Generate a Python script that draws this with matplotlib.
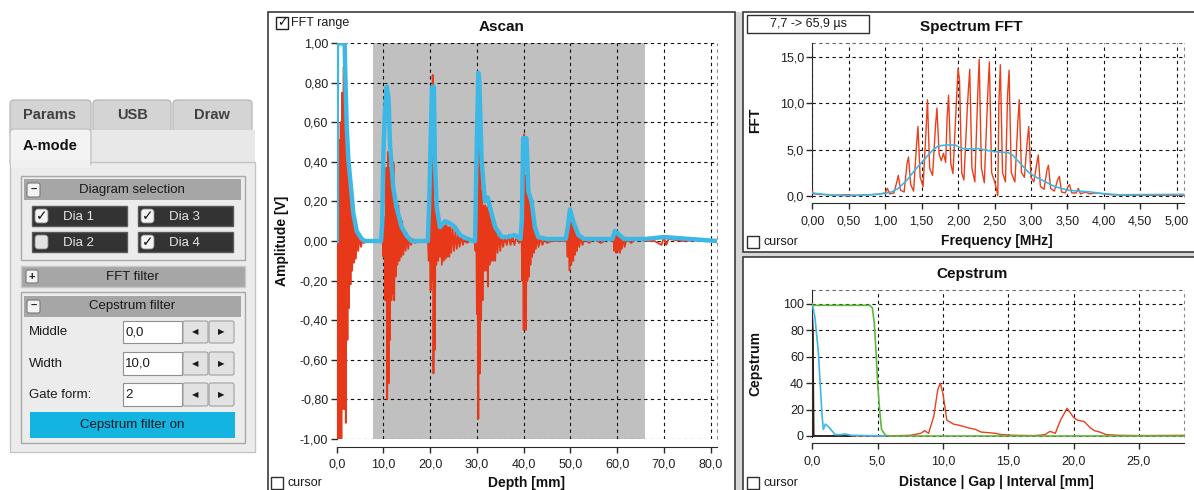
import matplotlib
matplotlib.use('Agg')
import matplotlib.pyplot as plt
from matplotlib.patches import Rectangle, FancyBboxPatch
from matplotlib.ticker import FuncFormatter

plt.rcParams['font.family'] = ['Liberation Sans', 'DejaVu Sans']

# ---------------- data ----------------
fft_range = [7.7, 65.9]

# Ascan raw RF signal (depth in mm, amplitude in V)
ascan_red_depth = [
    0.0, 0.1, 0.2, 0.35, 0.45, 0.55, 0.7, 0.85, 1.0, 1.15, 1.3, 1.5, 1.65, 1.8, 1.95, 2.1,
    2.3, 2.45, 2.6, 2.8, 2.95, 3.1, 3.3, 3.5, 3.7, 3.9, 4.1, 4.35, 4.6, 4.9, 5.2, 5.5, 5.8, 6.5,
    7.5, 9.0, 9.6,
    9.8, 10.0, 10.2, 10.4, 10.6, 10.8, 10.95, 11.1, 11.25, 11.4, 11.55, 11.7, 11.85, 12.0, 12.15,
    12.3, 12.45, 12.6, 12.8, 13.0, 13.2, 13.4, 13.6, 13.8, 14.0, 14.25, 14.5, 14.75, 15.0, 15.3,
    15.6, 15.9, 16.3, 16.8, 17.5, 19.3,
    19.5, 19.7, 19.9, 20.1, 20.25, 20.4, 20.55, 20.7, 20.85, 21.0, 21.15, 21.3, 21.5, 21.7, 21.9,
    22.1, 22.3, 22.5, 22.7, 22.9, 23.1, 23.3, 23.5, 23.7, 23.9, 24.1, 24.3, 24.5, 24.8, 25.1,
    25.4, 25.7, 26.0, 26.3, 26.6, 27.0, 27.4, 27.8, 28.5, 29.5,
    29.7, 29.85, 30.0, 30.15, 30.3, 30.45, 30.6, 30.75, 30.9, 31.05, 31.2, 31.4, 31.6, 31.8, 32.0,
    32.2, 32.35, 32.5, 32.7, 32.9, 33.1, 33.3, 33.5, 33.7, 33.9, 34.1, 34.4, 34.7, 35.0, 35.3,
    35.6, 36.0, 36.4, 36.8, 37.2, 37.6, 38.0, 38.5, 39.0, 39.4,
    39.55, 39.7, 39.85, 40.0, 40.1, 40.25, 40.4, 40.5, 40.65, 40.8, 40.95, 41.1, 41.3, 41.45,
    41.6, 41.8, 42.0, 42.2, 42.4, 42.6, 42.9, 43.2, 43.6, 44.0, 44.5, 45.0, 46.0, 49.0,
    49.2, 49.4, 49.6, 49.8, 50.0, 50.2, 50.4, 50.6, 50.8, 51.0, 51.2, 51.4, 51.6, 51.9, 52.2,
    52.6, 53.0, 54.0, 55.0, 56.5, 58.0, 59.0,
    59.2, 59.4, 59.6, 59.8, 60.0, 60.2, 60.4, 60.6, 60.8, 61.0, 61.3, 61.6, 62.0, 63.0, 64.0, 66.0,
    68.0, 69.5, 70.0, 70.5, 71.0, 74.0, 78.0, 81.3]
ascan_red_amp = [
    0.0, 1.0, -1.0, 0.32, -1.0, 0.51, -1.0, 0.6, -1.0, 0.75, -0.85, 0.88, -0.85, 0.6, -0.92, 0.45,
    -0.5, 0.4, -0.34, 0.28, -0.22, 0.22, -0.15, 0.14, -0.11, 0.1, -0.09, 0.06, -0.05, 0.03, -0.03, 0.01, -0.01, 0.0,
    0.0, 0.0, 0.0,
    0.02, -0.08, 0.12, -0.3, 0.37, -0.8, 0.45, -0.72, 0.37, -0.5, 0.37, -0.3, 0.36, -0.27, 0.39,
    -0.3, 0.25, -0.18, 0.2, -0.12, 0.18, -0.1, 0.12, -0.08, 0.1, -0.07, 0.05, -0.05, 0.04, -0.04,
    0.02, -0.02, 0.01, -0.01, 0.0, 0.0,
    0.01, -0.1, 0.15, -0.25, 0.6, -0.2, 0.84, -0.67, 0.2, -0.55, 0.2, -0.12, 0.13, -0.1, 0.08,
    -0.08, 0.07, -0.12, 0.08, -0.1, 0.08, -0.09, 0.08, -0.08, 0.07, -0.08, 0.07, -0.06, 0.06, -0.05,
    0.05, -0.04, 0.04, -0.03, 0.03, -0.02, 0.02, -0.01, 0.0, 0.0,
    -0.05, 0.15, -0.37, 0.4, -0.9, 0.68, -0.67, 0.5, -0.4, 0.25, -0.3, 0.18, -0.15, 0.18, -0.15,
    0.17, -0.23, 0.15, -0.12, 0.12, -0.1, 0.12, -0.1, 0.08, -0.1, 0.06, -0.06, 0.05, -0.05, 0.03,
    -0.03, 0.02, -0.02, 0.03, -0.02, 0.03, -0.02, 0.02, -0.01, 0.0,
    0.05, -0.2, 0.33, -0.45, 0.54, -0.35, 0.33, -0.45, 0.28, -0.2, 0.25, -0.18, 0.2, -0.12,
    0.15, -0.08, 0.1, -0.06, 0.06, -0.04, 0.03, -0.03, 0.02, -0.02, 0.01, -0.01, 0.0, 0.0,
    0.03, -0.08, 0.09, -0.15, 0.1, -0.12, 0.1, -0.1, 0.08, -0.07, 0.06, -0.05, 0.04, -0.03, 0.02,
    -0.02, 0.01, -0.01, 0.01, -0.01, 0.01, 0.0,
    0.03, -0.05, 0.05, -0.06, 0.04, -0.05, 0.04, -0.06, 0.03, -0.04, 0.02, -0.03, 0.01, -0.01, 0.01, 0.0,
    0.0, -0.02, 0.02, -0.02, 0.01, 0.0, 0.005, 0.0]

# Ascan envelope
ascan_env_depth = [
    0.0, 0.05, 1.7, 1.8, 2.14, 2.5, 3.06, 3.56, 4.28, 5.35, 6.06, 9.5, 9.75, 10.0, 10.3, 10.7,
    11.1, 11.4, 12.1, 12.8, 13.9, 15.0, 16.0, 19.5, 19.8, 20.1, 20.4, 20.8, 21.0, 21.4, 22.1,
    23.2, 24.2, 25.3, 26.4, 27.4, 29.2, 29.6, 29.9, 30.3, 30.5, 31.0, 31.7, 32.3, 32.8, 33.9,
    35.3, 36.5, 38.1, 39.3, 39.6, 39.9, 40.6, 41.0, 41.7, 42.4, 43.1, 45.0, 49.0, 49.5, 49.9,
    50.6, 51.7, 53.0, 59.0, 59.5, 60.5, 61.5, 66.0, 70.0, 81.3]
ascan_env_amp = [
    0.0, 1.0, 1.0, 0.88, 0.58, 0.41, 0.27, 0.14, 0.05, 0.01, 0.0, 0.0, 0.1, 0.45, 0.65, 0.78,
    0.72, 0.49, 0.27, 0.17, 0.07, 0.025, 0.0, 0.0, 0.2, 0.5, 0.78, 0.78, 0.41, 0.17, 0.07,
    0.1, 0.09, 0.07, 0.03, 0.017, 0.0, 0.0, 0.4, 0.85, 0.82, 0.41, 0.2, 0.22, 0.17, 0.07,
    0.02, 0.02, 0.03, 0.01, 0.1, 0.52, 0.52, 0.25, 0.2, 0.07, 0.02, 0.01, 0.01, 0.08, 0.16,
    0.1, 0.03, 0.01, 0.01, 0.05, 0.03, 0.01, 0.01, 0.02, 0.0]

# Spectrum FFT (MHz)
fft_freq = [
    0.00, 0.02, 0.10, 0.20, 0.30, 0.45, 0.60, 0.75, 0.90, 1.00, 1.03, 1.06, 1.12, 1.16, 1.18,
    1.21, 1.26, 1.30, 1.32, 1.35, 1.39, 1.43, 1.45, 1.48, 1.52, 1.56, 1.58, 1.61, 1.65, 1.69,
    1.71, 1.74, 1.77, 1.80, 1.83, 1.85, 1.87, 1.90, 1.93, 1.97, 2.00, 2.02, 2.05, 2.08, 2.13,
    2.16, 2.19, 2.23, 2.27, 2.29, 2.32, 2.36, 2.41, 2.43, 2.46, 2.51, 2.545, 2.56, 2.58, 2.61,
    2.65, 2.68, 2.70, 2.73, 2.78, 2.82, 2.84, 2.87, 2.91, 2.95, 2.97, 3.00, 3.04, 3.08, 3.10,
    3.13, 3.18, 3.22, 3.24, 3.27, 3.32, 3.37, 3.39, 3.42, 3.47, 3.51, 3.53, 3.56, 3.62, 3.65,
    3.68, 3.75, 3.80, 3.90, 4.00, 4.10, 4.30, 4.60, 5.10]
fft_red = [
    0.5, 0.2, 0.15, 0.1, 0.05, 0.1, 0.05, 0.1, 0.15, 0.3, 0.8, 0.2, 0.3, 1.5, 2.2,
    0.6, 0.4, 3.5, 4.2, 1.2, 0.5, 5.5, 7.5, 2.0, 1.0, 7.0, 10.4, 3.0, 2.2, 7.5,
    9.5, 4.5, 3.8, 4.6, 3.6, 8.5, 10.9, 3.5, 2.4, 9.0, 13.8, 12.5, 2.5, 1.7, 10.0,
    13.7, 3.0, 1.5, 11.0, 14.8, 3.0, 1.4, 11.5, 14.5, 2.5, 1.3, 0.0, 10.0, 14.2, 2.5,
    1.5, 11.0, 13.6, 2.5, 1.5, 8.0, 10.4, 2.5, 2.0, 6.0, 7.5, 2.0, 1.5, 3.5, 4.4,
    1.0, 0.7, 2.8, 3.3, 0.8, 0.5, 1.8, 2.1, 0.4, 0.3, 1.0, 1.2, 0.3, 0.3, 0.8,
    0.2, 0.4, 0.2, 0.3, 0.2, 0.1, 0.05, 0.05, 0.05]
fft_smooth_freq = [0.0, 0.1, 0.3, 0.5, 0.8, 1.0, 1.1, 1.18, 1.3, 1.41, 1.5, 1.59, 1.66, 1.73,
                   1.85, 1.96, 2.03, 2.1, 2.28, 2.5, 2.69, 2.75, 2.83, 2.96, 3.05, 3.15, 3.33,
                   3.51, 3.65, 3.79, 3.97, 4.2, 5.1]
fft_smooth = [0.3, 0.2, 0.05, 0.0, 0.1, 0.25, 0.45, 0.8, 1.7, 2.8, 3.6, 4.4, 5.0, 5.4,
              5.5, 5.5, 5.2, 5.06, 5.1, 4.77, 4.66, 4.4, 3.7, 2.6, 2.1, 1.7, 0.98,
              0.6, 0.5, 0.43, 0.25, 0.1, 0.15]

# Cepstrum (mm)
cep_gate_x = [0.0, 4.4, 4.6, 4.75, 4.9, 5.0, 5.15, 5.3, 5.6, 5.9, 28.45]
cep_gate_y = [99, 99, 97, 85, 60, 40, 20, 5, 0.5, 0, 0]
cep_filt_x = [0.0, 0.2, 0.45, 0.6, 0.75, 0.85, 1.0, 1.25, 1.5, 1.75, 2.2, 2.5, 3.0, 5.5]
cep_filt_y = [100, 90, 65, 40, 15, 5, 9, 7, 4, 1, 1, 1.5, 0.5, 0]
cep_raw_x = [0.0, 0.05, 0.1, 3.0, 5.5, 7.5, 8.3, 8.6, 8.9, 9.3, 9.6, 9.8, 10.0, 10.3, 10.8,
             11.3, 12.0, 12.5, 12.9, 13.5, 14.0, 14.5, 15.5, 17.0, 17.8, 18.2, 18.6, 19.0,
             19.5, 20.0, 20.3, 20.8, 21.3, 21.6, 22.0, 22.5, 23.5, 25.0, 28.45]
cep_raw_y = [90, 75, 0, 0, 0, 0.5, 2, 4, 2, 15, 35, 40, 32, 12, 9,
             8, 6, 5, 3, 2.5, 2, 1, 0.5, 0.3, 1, 3.5, 2, 12,
             21, 14, 12, 11, 6, 4, 3, 1, 0.5, 0.3, 0.5]

ascan_xticks = [0, 10, 20, 30, 40, 50, 60, 70, 80]
ascan_yticks = [-1.0, -0.8, -0.6, -0.4, -0.2, 0.0, 0.2, 0.4, 0.6, 0.8, 1.0]
fft_xticks = [0.0, 0.5, 1.0, 1.5, 2.0, 2.5, 3.0, 3.5, 4.0, 4.5, 5.0]
fft_yticks = [0.0, 5.0, 10.0, 15.0]
cep_xticks = [0.0, 5.0, 10.0, 15.0, 20.0, 25.0]
cep_yticks = [0, 20, 40, 60, 80, 100]

# ---------------- figure ----------------
W, H = 1194, 490
fig = plt.figure(figsize=(W / 100, H / 100), dpi=100)
bg = fig.add_axes([0, 0, 1, 1], zorder=0)
bg.set_xlim(0, W)
bg.set_ylim(H, 0)
bg.axis('off')

def rect(x0, y0, x1, y1, fc='none', ec='none', lw=1.0, z=1, rounded=0):
    if rounded:
        p = FancyBboxPatch((x0, y0), x1 - x0, y1 - y0,
                           boxstyle='round,pad=0,rounding_size=%g' % rounded,
                           facecolor=fc, edgecolor=ec, linewidth=lw, zorder=z)
    else:
        p = Rectangle((x0, y0), x1 - x0, y1 - y0, facecolor=fc, edgecolor=ec,
                      linewidth=lw, zorder=z)
    bg.add_patch(p)

def txt(x, y, s, size=9, ha='left', color='#1a1a1a', weight='normal', z=5, **kw):
    bg.text(x, y, s, fontsize=size, ha=ha, va='center', color=color,
            fontweight=weight, zorder=z, **kw)

# ----- left control panel -----
rect(10, 100, 91, 136, fc='#d4d4d4', ec='#bcbcbc', rounded=4)
rect(93, 100, 171, 136, fc='#d4d4d4', ec='#bcbcbc', rounded=4)
rect(173, 100, 252, 136, fc='#d4d4d4', ec='#bcbcbc', rounded=4)
txt(50, 115, 'Params', size=10.5, weight='bold', ha='center', color='#404040')
txt(132, 115, 'USB', size=10.5, weight='bold', ha='center', color='#404040')
txt(212, 115, 'Draw', size=10.5, weight='bold', ha='center', color='#404040')
rect(10, 130, 255, 163, fc='#e8e8e8', ec='none', z=1.5)
rect(10, 162, 255, 452, fc='#ececec', ec='#c4c4c4', z=1.6)
rect(10, 129, 91, 166, fc='#f3f3f3', ec='#c4c4c4', rounded=4, z=1.7)
rect(11, 160, 90, 168, fc='#f0f0f0', ec='none', z=1.8)
txt(50, 146, 'A-mode', size=10.5, weight='bold', ha='center', color='#101010')

# Diagram selection group
rect(21, 176, 245, 260, fc='#ececec', ec='#a8a8a8', z=2)
rect(24, 179, 241, 200, fc='#a6a6a6', ec='none', z=2.1)
rect(27, 183, 40, 197, fc='#f2f2f2', ec='#7a7a7a', lw=0.8, z=2.2, rounded=2)
txt(33.5, 189.5, '–', size=8, ha='center', weight='bold')
txt(132, 190, 'Diagram selection', size=9.5, ha='center')
dia = [('Dia 1', 32, 206, True), ('Dia 3', 138, 206, True),
       ('Dia 2', 32, 232, False), ('Dia 4', 138, 232, True)]
for name, x0, y0, chk in dia:
    rect(x0, y0, x0 + 95, y0 + 20, fc='#333333', ec='#5a5a5a', z=2.2)
    rect(x0 + 3, y0 + 3, x0 + 16, y0 + 17, fc='#f4f4f4' if chk else '#e2e2e2',
         ec='#888888', lw=0.6, z=2.3, rounded=3)
    if chk:
        txt(x0 + 9.5, y0 + 10.5, '✓', size=10, ha='center', color='#111111',
            family=['DejaVu Sans'], weight='bold')
    txt(x0 + 31, y0 + 10.5, name, size=9.5, color='#e6e6e6')

# FFT filter bar
rect(21, 266, 245, 287, fc='#a6a6a6', ec='#c8c8c8', z=2)
rect(26, 270, 38, 283, fc='#f2f2f2', ec='#7a7a7a', lw=0.8, z=2.2, rounded=2)
txt(32, 276.5, '+', size=8, ha='center', weight='bold')
txt(132, 277, 'FFT filter', size=9.5, ha='center')

# Cepstrum filter group
rect(21, 292, 245, 443, fc='#ececec', ec='#a8a8a8', z=2)
rect(24, 296, 241, 317, fc='#a6a6a6', ec='none', z=2.1)
rect(27, 300, 40, 313, fc='#f2f2f2', ec='#7a7a7a', lw=0.8, z=2.2, rounded=2)
txt(33.5, 306, '–', size=8, ha='center', weight='bold')
txt(132, 306, 'Cepstrum filter', size=9.5, ha='center')
rows = [('Middle', '0,0', 321, 343), ('Width', '10,0', 352, 375), ('Gate form:', '2', 383, 406)]
for lab, val, y0, y1 in rows:
    ym = (y0 + y1) / 2
    txt(29, ym, lab, size=9.5)
    rect(123, y0, 182, y1, fc='white', ec='#909090', lw=0.8, z=2.2)
    txt(125, ym, val, size=9.5)
    rect(183, y0, 208, y1, fc='#e2e2e2', ec='#a0a0a0', lw=0.8, z=2.2, rounded=2)
    rect(209, y0, 234, y1, fc='#e2e2e2', ec='#a0a0a0', lw=0.8, z=2.2, rounded=2)
    txt(195.5, ym, '◀', size=6, ha='center', family=['DejaVu Sans'])
    txt(221.5, ym, '▶', size=6, ha='center', family=['DejaVu Sans'])
rect(30, 412, 235, 438, fc='#14b4e0', ec='none', z=2.2)
txt(132, 425, 'Cepstrum filter on', size=9.5, ha='center', color='#0a1a24')

# ----- chart panel frames -----
rect(735, 12, 743, 492, fc='#d6d6d6', ec='none', z=0.5)
rect(743, 251.5, 1196, 257, fc='#d6d6d6', ec='none', z=0.5)
rect(268, 12, 735, 495, fc='white', ec='#3c3c3c', lw=1.2, z=0.6)
rect(743, 12, 1200, 251.5, fc='white', ec='#3c3c3c', lw=1.2, z=0.6)
rect(743, 257, 1200, 495, fc='white', ec='#3c3c3c', lw=1.2, z=0.6)

# checkboxes / info boxes
rect(276, 17, 288, 29, fc='white', ec='#202020', lw=1, z=3)
txt(282, 23, '✓', size=9, ha='center', family=['DejaVu Sans'], weight='bold', color='#111')
txt(291, 23, 'FFT range')
for bx, by in [(271, 477), (747, 236), (747, 477)]:
    rect(bx, by, bx + 12, by + 12, fc='white', ec='#303030', lw=1, z=3)
    txt(bx + 17, by + 6, 'cursor')
rect(747, 15, 869, 33, fc='white', ec='#303030', lw=1, z=3)
txt(808, 24, '7,7 -> 65,9 µs', ha='center')


def add_ax(l, t, r, b):
    return fig.add_axes([l / W, 1 - b / H, (r - l) / W, (b - t) / H], zorder=2)


def fmt(dec):
    return FuncFormatter(lambda v, p: ('{:.%df}' % dec).format(v).replace('.', ','))


def style(ax, xlim, ylim, xt, yt, xdec, ydec, off_px, dark_top=False):
    ax.set_xlim(*xlim)
    ax.set_ylim(*ylim)
    ax.set_xticks(xt)
    ax.set_yticks(yt)
    ax.xaxis.set_major_formatter(fmt(xdec))
    ax.yaxis.set_major_formatter(fmt(ydec))
    ax.set_axisbelow(True)
    ax.grid(True, color='#111111', linestyle=(0, (3, 3)), linewidth=0.8)
    ax.spines['top'].set_visible(False)
    ax.spines['right'].set_visible(False)
    ax.spines['left'].set_color('#2a2a2a')
    ax.spines['bottom'].set_color('#2a2a2a')
    ax.spines['bottom'].set_position(('outward', off_px * 0.72))
    ax.tick_params(axis='both', length=4.5, width=1, color='#2a2a2a', labelsize=9,
                   labelcolor='#202020')
    ax.tick_params(axis='y', pad=1.5)
    ax.tick_params(axis='x', pad=4)
    ax.axvline(xlim[1], color='#888888', linestyle=(0, (3, 3)), linewidth=0.8, clip_on=False)
    if not dark_top:
        ax.axhline(ylim[1], color='#666666', linestyle=(0, (3, 3)), linewidth=0.8, clip_on=False)


LBL = dict(fontsize=10, fontweight='bold', color='#101010')
TTL = dict(fontsize=11, fontweight='bold', color='#101010')

# ----- Ascan -----
ax1 = add_ax(336.7, 43.3, 716.7, 438.7)
ax1.axvspan(fft_range[0], fft_range[1], color='#c0c0c0', zorder=0, linewidth=0)
ax1.plot(ascan_red_depth, ascan_red_amp, color='#e8381a', lw=1.3, zorder=3)
ax1.plot(ascan_env_depth, ascan_env_amp, color='#3cb8e6', lw=3.2, zorder=4,
         solid_joinstyle='round')
style(ax1, (0, 81.3), (-1.0, 1.0), ascan_xticks, ascan_yticks, 1, 2, 8, dark_top=True)
ax1.set_title('Ascan', x=0.434, y=1.0405, pad=0, va='center', **TTL)
ax1.set_xlabel('Depth [mm]', va='center', **LBL)
ax1.xaxis.set_label_coords(0.5, -0.112)
ax1.set_ylabel('Amplitude [V]', va='center', **LBL)
ax1.yaxis.set_label_coords(-0.144, 0.5)

# ----- Spectrum FFT -----
ax2 = add_ax(812.3, 43.3, 1184, 197.1)
ax2.plot(fft_freq, fft_red, color='#e8401c', lw=1.0, zorder=3)
ax2.plot(fft_smooth_freq, fft_smooth, color='#3cb8e6', lw=1.2, zorder=4)
style(ax2, (0, 5.1), (-0.15, 16.52), fft_xticks, fft_yticks, 2, 1, 6.2)
ax2.set_title('Spectrum FFT', x=0.427, y=1.108, pad=0, va='center', **TTL)
ax2.set_xlabel('Frequency [MHz]', va='center', **LBL)
ax2.xaxis.set_label_coords(0.497, -0.283)
ax2.set_ylabel('FFT', va='center', **LBL)
ax2.yaxis.set_label_coords(-0.154, 0.5)

# ----- Cepstrum -----
ax3 = add_ax(812.3, 290, 1184, 437.3)
ax3.plot(cep_raw_x, cep_raw_y, color='#e8401c', lw=1.0, zorder=3)
ax3.plot(cep_raw_x[:4], cep_raw_y[:4], color='#202020', lw=1.2, zorder=3.5)
ax3.plot(cep_filt_x, cep_filt_y, color='#3cb8e6', lw=1.2, zorder=4)
ax3.plot(cep_gate_x, cep_gate_y, color='#5cb83c', lw=1.2, zorder=5)
style(ax3, (0, 28.45), (-1.0, 110.6), cep_xticks, cep_yticks, 1, 0, 6)
ax3.set_title('Cepstrum', x=0.4296, y=1.1086, pad=0, va='center', **TTL)
ax3.set_xlabel('Distance | Gap | Interval [mm]', va='center', **LBL)
ax3.xaxis.set_label_coords(0.494, -0.301)
ax3.set_ylabel('Cepstrum', va='center', **LBL)
ax3.yaxis.set_label_coords(-0.154, 0.5)

fig.savefig('out.png', dpi=100)
